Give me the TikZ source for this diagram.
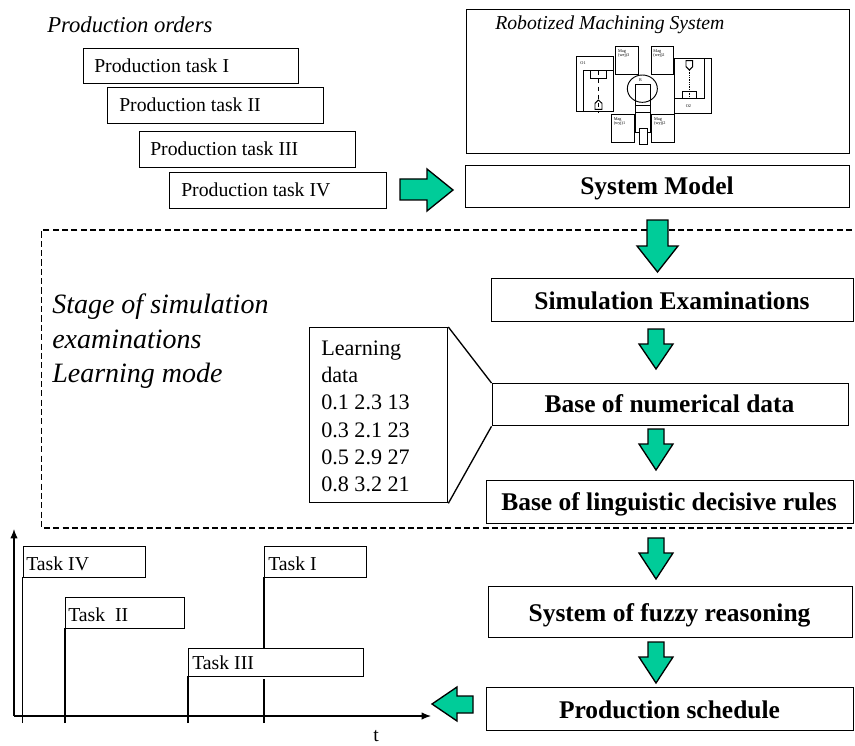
\documentclass[tikz,border=0pt]{standalone}
\usepackage{fontspec}
\setmainfont{Liberation Serif}
\usetikzlibrary{arrows.meta}
\definecolor{arrowgreen}{RGB}{0,204,153}
\newcommand{\fs}[1]{\fontsize{#1}{#1}\selectfont}
\tikzset{
  x=0.75pt,y=-0.75pt,
  box/.style={draw=black,line width=1pt,fill=white,inner sep=0pt},
  plain/.style={font=\fs{14.8},anchor=base west,inner sep=0pt},
  boldt/.style={font=\fs{19.1}\bfseries,anchor=base,inner sep=0pt},
  ital/.style={font=\fs{14.8}\itshape,anchor=base west,inner sep=0pt},
  garrow/.style={draw=black,line width=1pt,fill=arrowgreen,line join=miter},
  axis/.style={draw=black,line width=0.9pt,-{Latex[length=7pt,width=5.5pt]}},
  tick/.style={draw=black,line width=0.9pt},
  tiny/.style={font=\fs{3.2},inner sep=0pt,align=left,anchor=north west}
}
\newcommand{\rect}[5]{\node[box,minimum width=#3*0.75pt-#1*0.75pt,minimum height=#4*0.75pt-#2*0.75pt,anchor=north west] (#5) at (#1,#2) {};}
% down arrow: centre x, top y, shoulder y, tip y, half shaft, half head
\newcommand{\darrow}[6]{\draw[garrow] (#1-#5,#2) -- (#1+#5,#2) -- (#1+#5,#3) -- (#1+#6,#3) -- (#1,#4) -- (#1-#6,#3) -- (#1-#5,#3) -- cycle;}
\begin{document}
\begin{tikzpicture}
\useasboundingbox (0,0) rectangle (855,745);
% production orders
\node[ital,font=\fs{17}\itshape] (po) at (47,32.7) {Production orders};
\rect{83}{48}{298}{83}{p1}
\rect{107}{87}{323}{123}{p2}
\rect{139}{131}{355}{167}{p3}
\rect{169}{172}{386}{208}{p4}
\node[plain] (tp1) at (94,73) {Production task I};
\node[plain] (tp2) at (119,112) {Production task II};
\node[plain] (tp3) at (150,156) {Production task III};
\node[plain] (tp4) at (181,197) {Production task IV};
% robot box
\rect{466}{9}{849}{153}{rob}
\node[ital] (rt) at (495,30) {Robotized Machining System};
\begin{scope}[shift={(560,30)},x=0.25pt,y=-0.25pt,line width=0.7pt]
 \draw (48,80) rectangle (160,245);
 \draw (70,245) -- (70,122) -- (160,122);
 \draw (92,122) rectangle (138,144);
 \draw[dashed] (115,122) -- (115,250);
 \draw (105,238) -- (105,220) -- (115,210) -- (126,220) -- (126,238) -- cycle;
 \draw (167,50) rectangle (235,132);
 \draw (273,50) rectangle (340,132);
 \draw (343,84) rectangle (455,250);
 \draw (343,206) -- (433,206) -- (433,84);
 \draw (366,206) -- (366,184) -- (410,184) -- (410,206);
 \draw[densely dotted,line width=0.3pt] (388,120) -- (388,206);
 \draw (378,92) -- (398,92) -- (398,110) -- (388,120) -- (378,110) -- cycle;
 \draw (247,176) ellipse (45 and 41);
 \draw (226,162) rectangle (271,308);
 \draw (226,226) -- (271,226);
 \draw (226,246) -- (271,246);
 \draw[fill=white] (238,295) rectangle (262,342);
 \draw (155,254) rectangle (222,337);
 \draw (275,254) rectangle (343,338);
 \node[tiny] (t1) at (60,94) {O1};
 \node[tiny] (t2) at (173,58) {Mag\\(wej)3};
 \node[tiny] (t3) at (279,58) {Mag\\(wej)2};
 \node[tiny] (t4) at (376,222) {O2};
 \node[tiny] (t5) at (236,146) {R};
 \node[tiny] (t6) at (160,262) {Mag\\(wyj)1};
 \node[tiny] (t7) at (281,262) {Mag\\(wyj)2};
\end{scope}
% dashed frame
\draw[black,line width=1.2pt,dash pattern=on 4.6pt off 2.4pt] (852,230) -- (41.5,230) -- (41.5,527.7) -- (852,527.7);
% main boxes
\rect{465}{165}{849}{207}{sm}
\rect{491}{278}{853}{321}{se}
\rect{491.5}{383}{848}{425}{bn}
\rect{486}{480}{853}{523}{bl}
\rect{488}{586}{852}{637}{fr}
\rect{486}{687}{853}{730}{ps}
\node[boldt] (tsm) at (657,195) {System Model};
\node[boldt] (tse) at (672,309) {Simulation Examinations};
\node[boldt] (tbn) at (669.5,412.7) {Base of numerical data};
\node[boldt] (tbl) at (669,510.7) {Base of linguistic decisive rules};
\node[boldt] (tfr) at (669.5,621) {System of fuzzy reasoning};
\node[boldt] (tps) at (669.5,718) {Production schedule};
% arrows
\darrow{657.5}{220}{246}{272}{10.5}{20.5}
\darrow{656}{329}{344}{369}{8}{17}
\darrow{656}{429}{444}{470}{8}{17}
\darrow{656}{538}{553}{579}{8}{17}
\darrow{656}{642}{657}{683}{8}{17}
\draw[garrow] (400,179) -- (427,179) -- (427,169) -- (453,190) -- (427,211) -- (427,200) -- (400,200) -- cycle;
\draw[garrow] (473,696) -- (457,696) -- (457,687) -- (432,704) -- (457,721) -- (457,713) -- (473,713) -- cycle;
% learning data
\rect{309}{327}{447}{502}{ld}
\draw[black,line width=1pt] (ld.north east) -- (bn.north west);
\draw[black,line width=1pt] (ld.south east) -- (bn.south west);
\node[font=\fs{16.6},anchor=base west,inner sep=0pt] (ld1) at (321,355) {Learning};
\node[font=\fs{16.6},anchor=base west,inner sep=0pt] (ld2) at (321,382) {data};
\node[font=\fs{16.6},anchor=base west,inner sep=0pt] (ld3) at (321,409) {0.1 2.3 13};
\node[font=\fs{16.6},anchor=base west,inner sep=0pt] (ld4) at (321,437) {0.3 2.1 23};
\node[font=\fs{16.6},anchor=base west,inner sep=0pt] (ld5) at (321,464) {0.5 2.9 27};
\node[font=\fs{16.6},anchor=base west,inner sep=0pt] (ld6) at (321,491) {0.8 3.2 21};
\node[font=\fs{21}\itshape,anchor=base west,inner sep=0pt] (st1) at (52,313) {Stage of simulation};
\node[font=\fs{21}\itshape,anchor=base west,inner sep=0pt] (st2) at (52,348) {examinations};
\node[font=\fs{21}\itshape,anchor=base west,inner sep=0pt] (st3) at (52,382) {Learning mode};
% gantt
\draw[axis] (14,716) -- (14,529);
\draw[axis] (14,716) -- (431,716);
\draw[tick] (22.7,723) -- (22.7,577);
\draw[tick] (65,723) -- (65,628);
\draw[tick] (188,723) -- (188,676);
\draw[tick] (264,723) -- (264,679);
\draw[tick] (264,577) -- (264,648);
\rect{22.7}{546}{145}{577}{t4}
\rect{65}{597}{184}{628}{t2}
\rect{188}{648}{363}{676}{t3}
\rect{264}{546}{366}{577}{t1}
\node[plain] (l4) at (26,570) {Task IV};
\node[plain] (l2) at (68,621) {Task\ \ II};
\node[plain] (l3) at (192,669) {Task III};
\node[plain] (l1) at (268,570) {Task I};
\node[plain] (lt) at (373,741) {t};
\end{tikzpicture}
\end{document}
